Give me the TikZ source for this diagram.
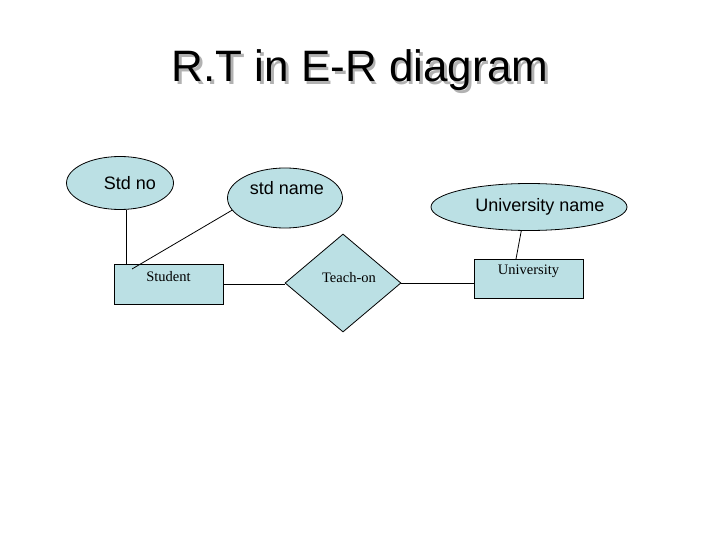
\documentclass[tikz,border=0pt]{standalone}
\usepackage{fontspec}
\setmainfont{Liberation Serif}
\newfontfamily\arialfont{Liberation Sans}
\usetikzlibrary{shapes.geometric}
\definecolor{erfill}{RGB}{187,224,228}
\begin{document}
\begin{tikzpicture}[x=1pt, y=-1pt,
		attrib/.style={ellipse, draw, fill=erfill, line width=0.8pt, inner sep=0pt},
		entity/.style={rectangle, draw, fill=erfill, line width=0.8pt, inner sep=0pt, minimum width=109pt, minimum height=40pt},
		relation/.style={diamond, draw, fill=erfill, line width=0.8pt, inner sep=0pt, minimum width=116pt, minimum height=98pt},
		atext/.style={font=\arialfont\fontsize{18}{20}\selectfont},
		etext/.style={font=\fontsize{14.5}{16}\selectfont}]
		\useasboundingbox (0,0) rectangle (720,540);
		
		% title with its drop shadow
		\node[anchor=base, gray!60, font=\arialfont\fontsize{44}{48}\selectfont] (titleshadow) at (362.5,84.5) {R.T in E-R diagram};
		\node[anchor=base, font=\arialfont\fontsize{44}{48}\selectfont] (title) at (360,82) {R.T in E-R diagram};
		
		% attributes
		\node[attrib, minimum width=107pt, minimum height=53pt, label={[atext, xshift=10pt]center:Std no}] (stdno) at (120,183) {};
		\node[attrib, minimum width=115pt, minimum height=60pt, label={[atext, xshift=2pt, yshift=10pt]center:std name}] (stdname) at (285,198) {};
		\node[attrib, minimum width=196pt, minimum height=47pt, label={[atext, xshift=11pt]center:University name}] (uniname) at (529,207) {};
		
		% entities and relation
		\node[entity, label={[etext, yshift=7pt]center:Student}] (student) at (168.5,284) {};
		\node[relation, label={[etext, xshift=6pt, yshift=5pt]center:Teach-on}] (teach) at (343,283) {};
		\node[entity, minimum height=39pt, label={[etext, yshift=7.5pt]center:University}] (uni) at (528.5,278.5) {};
		
		\coordinate (stuend) at (132,269);
		\coordinate (uniend) at (516,259);
		
		\draw[line width=0.8pt] (stdno.-77) -- (stdno.-77 |- student.north);
		\draw[line width=0.8pt] (stdname.193) -- (stuend);
		\draw[line width=0.8pt] (student.east) -- (student.east -| teach.west);
		\draw[line width=0.8pt] (teach.east) -- (teach.east -| uni.west);
		\draw[line width=0.8pt] (uniname.-108) -- (uniend);
	\end{tikzpicture}
\end{document}
